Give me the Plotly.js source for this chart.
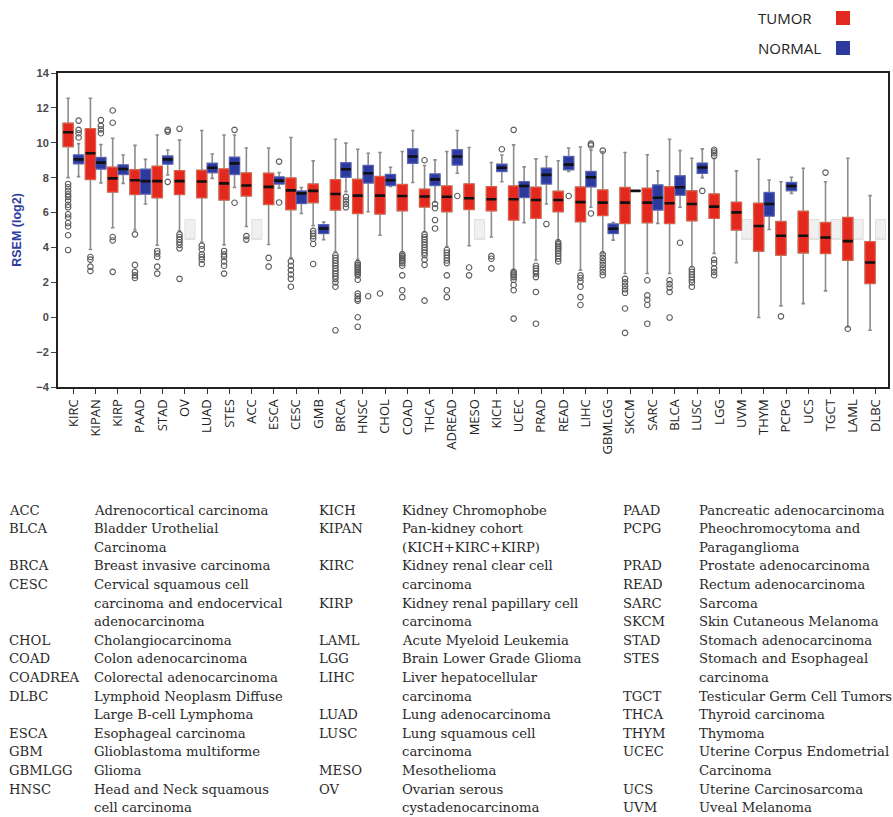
<!DOCTYPE html>
<html><head><meta charset="utf-8">
<script src="https://cdn.plot.ly/plotly-3.0.1.min.js"></script>
<style>html,body{margin:0;padding:0;background:#fff}#chart{width:893px;height:817px}</style>
</head><body><div id="chart"></div>
<script>
// ---------------- DATA ----------------
const categories = ['KIRC','KIPAN','KIRP','PAAD','STAD','OV','LUAD','STES','ACC','ESCA','CESC','GMB','BRCA','HNSC','CHOL','COAD','THCA','ADREAD','MESO','KICH','UCEC','PRAD','READ','LIHC','GBMLGG','SKCM','SARC','BLCA','LUSC','LGG','UVM','THYM','PCPG','UCS','TGCT','LAML','DLBC'];

const tumorLower  = [8.0, 3.88, 5.13, 5.0, 4.13, 4.95, 4.3, 4.15, 5.2, 4.17, 3.4, 5.25, 3.75, 3.3, 4.7, 3.75, 4.9, 4.05, 4.1, 4.6, 2.7, 3.27, 4.42, 2.7, 3.66, 2.51, 2.51, 2.51, 2.89, 3.66, 3.12, -0.02, 0.65, 0.78, 1.51, -0.56, -0.75];
const tumorQ1     = [9.78, 7.9, 7.18, 7.04, 6.85, 7.04, 6.85, 6.72, 6.95, 6.47, 6.17, 6.57, 6.15, 5.95, 5.92, 6.1, 6.32, 6.05, 6.18, 6.1, 5.57, 5.67, 6.05, 5.48, 5.83, 5.38, 5.42, 5.38, 5.53, 5.67, 5.0, 3.79, 3.56, 3.69, 3.66, 3.27, 1.93];
const tumorMedian = [10.6, 9.4, 7.96, 7.85, 7.8, 7.8, 7.78, 7.67, 7.55, 7.47, 7.27, 7.24, 7.06, 6.97, 6.97, 6.95, 6.92, 6.91, 6.82, 6.76, 6.76, 6.72, 6.72, 6.6, 6.57, 6.57, 6.57, 6.53, 6.49, 6.34, 6.01, 5.23, 4.67, 4.67, 4.57, 4.36, 3.14];
const tumorQ3     = [11.12, 10.8, 8.6, 8.45, 8.65, 8.4, 8.42, 8.5, 8.27, 8.25, 7.98, 7.63, 7.88, 7.9, 8.06, 7.6, 7.34, 7.52, 7.64, 7.48, 7.52, 7.45, 7.22, 7.46, 7.29, 7.43, 7.39, 7.48, 7.24, 7.06, 6.59, 6.53, 5.48, 6.07, 5.42, 5.72, 4.33];
const tumorUpper  = [12.55, 12.55, 10.26, 9.85, 10.45, 10.15, 10.7, 10.45, 9.7, 9.7, 10.3, 8.96, 10.2, 9.63, 9.44, 9.5, 8.7, 9.5, 9.73, 8.87, 9.88, 9.08, 8.97, 9.76, 9.5, 9.44, 9.31, 10.2, 9.11, 9.1, 8.39, 9.06, 7.77, 8.54, 7.77, 9.11, 6.97];

const normalLower  = [8.06, 7.7, 7.67, 6.49, 8.15, null, 7.96, 7.44, null, 7.4, 5.95, 4.45, 7.2, 6.05, 7.5, 7.72, 6.6, 8.25, null, 7.77, 5.42, 6.49, 8.35, 6.3, 4.42, 7.24, 5.38, 6.3, 8.0, null, null, 5.03, 7.1, null, null, null, null];
const normalQ1     = [8.8, 8.5, 8.19, 7.06, 8.78, null, 8.29, 8.19, null, 7.64, 6.52, 4.8, 8.02, 7.7, 7.55, 8.83, 7.56, 8.73, null, 8.36, 6.87, 7.64, 8.46, 7.48, 4.8, 7.24, 6.15, 7.0, 8.25, null, null, 5.8, 7.26, null, null, null, null];
const normalMedian = [9.05, 8.86, 8.5, 7.8, 9.05, null, 8.57, 8.82, null, 7.83, 7.1, 5.09, 8.48, 8.25, 7.85, 9.21, 7.9, 9.21, null, 8.57, 7.52, 8.16, 8.75, 8.02, 5.07, 7.24, 6.85, 7.45, 8.58, null, null, 6.49, 7.52, null, null, null, null];
const normalQ3     = [9.3, 9.15, 8.73, 8.48, 9.24, null, 8.82, 9.17, null, 8.04, 7.23, 5.3, 8.85, 8.7, 8.18, 9.65, 8.21, 9.6, null, 8.77, 7.77, 8.54, 9.21, 8.35, 5.34, 7.24, 7.58, 8.1, 8.83, null, null, 7.14, 7.72, null, null, null, null];
const normalUpper  = [9.95, 9.9, 9.3, 9.05, 9.59, null, 9.36, 10.45, null, 8.3, 7.44, 5.45, 9.98, 9.4, 8.6, 10.7, 9.02, 10.7, null, 9.3, 8.62, 9.21, 9.7, 9.58, 5.42, 7.24, 8.39, 9.56, 9.65, null, null, 7.87, 8.02, null, null, null, null];

const tumorOutliers = [
  [7.64,7.45,7.25,7.05,6.9,6.7,6.45,6.3,5.9,5.72,5.4,5.2,4.7,3.85],
  [3.45,3.3,2.9,2.65],
  [11.85,11.15,4.6,4.4,2.6],
  [4.75,3.0,2.6,2.4,2.25],
  [3.8,3.65,3.45,2.9,2.5],
  [10.8,4.75,4.6,4.45,4.3,4.15,3.95,2.2],
  [4.1,3.9,3.6,3.45,3.3,3.05],
  [3.8,3.6,3.45,3.2,2.95,2.5],
  [4.65,4.45],
  [3.4,2.9],
  [3.2,2.95,2.7,2.45,2.2,1.75],
  [4.95,4.8,4.65,4.5,4.2,3.05],
  [3.55,3.4,3.25,3.1,2.95,2.8,2.65,2.5,2.35,2.2,2.0,1.75,-0.75],
  [3.1,3.0,2.9,2.8,2.7,2.6,2.5,2.4,2.15,1.35,1.2,1.05,0.95,0.0,-0.55],
  [1.36],
  [3.6,3.5,3.4,3.3,3.2,3.1,2.95,2.4,1.55,1.15],
  [9.0,4.75,4.6,4.45,4.3,4.15,4.0,3.85,3.7,3.55,3.3,3.0,0.95],
  [3.85,3.7,3.55,3.4,3.25,3.1,2.4,1.55,1.15],
  [2.85,2.4],
  [3.5,3.35,2.8],
  [10.74,2.6,2.5,2.4,2.3,2.15,1.85,1.55,-0.08],
  [2.95,2.8,2.65,2.5,2.3,1.45,-0.37],
  [4.3,4.2,4.1,4.0,3.9,3.8,3.65,3.5,3.35,3.2],
  [2.4,2.25,2.05,1.75,1.15,0.7],
  [9.55,3.6,3.4,3.2,3.0,2.8,2.6,2.41],
  [2.2,2.0,1.8,1.6,1.4,0.5,-0.9],
  [2.12,1.25,1.0,0.7,-0.37],
  [2.12,1.9,1.7,1.45,-0.02],
  [2.75,2.6,2.45,2.3,2.15,2.0,1.75],
  [9.6,9.5,9.4,9.25,3.3,3.1,2.8,2.6,2.41],
  [],
  [],
  [0.05],
  [],
  [8.29],
  [-0.66],
  []
];
const normalOutliers = [
  [11.27,10.74,10.55,10.3],
  [11.3,10.97,10.77,10.55],
  [], [], [10.74,10.64,7.76], [], [], [10.74,6.56], [],
  [8.92,6.58], [], [], [6.9,6.7,6.5,6.3], [1.2], [], [],
  [6.49,6.25,5.57,5.09], [6.95], [], [9.63], [], [5.34], [6.95],
  [9.95,9.85,5.95], [], [], [], [4.27], [7.24], [], [], [], [], [], [], [], []
];

const placeholderCats = ['OV','ACC','MESO','UVM','UCS','TGCT','LAML','DLBC'];
const placeholderLow = 4.45, placeholderHigh = 5.6;

const legendLabels = ['TUMOR','NORMAL'];
const yTicks = [-4,-2,0,2,4,6,8,10,12,14];

const glossaryAbbr = [
  ['ACC','BLCA','BRCA','CESC','CHOL','COAD','COADREA','DLBC','ESCA','GBM','GBMLGG','HNSC'],
  ['KICH','KIPAN','KIRC','KIRP','LAML','LGG','LIHC','LUAD','LUSC','MESO','OV'],
  ['PAAD','PCPG','PRAD','READ','SARC','SKCM','STAD','STES','TGCT','THCA','THYM','UCEC','UCS','UVM']
];
const glossaryDesc = [
  ['Adrenocortical carcinoma','Bladder Urothelial|Carcinoma','Breast invasive carcinoma','Cervical squamous cell|carcinoma and endocervical|adenocarcinoma','Cholangiocarcinoma','Colon adenocarcinoma','Colorectal adenocarcinoma','Lymphoid Neoplasm Diffuse|Large B-cell Lymphoma','Esophageal carcinoma','Glioblastoma multiforme','Glioma','Head and Neck squamous|cell carcinoma'],
  ['Kidney Chromophobe','Pan-kidney cohort|(KICH+KIRC+KIRP)','Kidney renal clear cell|carcinoma','Kidney renal papillary cell|carcinoma','Acute Myeloid Leukemia','Brain Lower Grade Glioma','Liver hepatocellular|carcinoma','Lung adenocarcinoma','Lung squamous cell|carcinoma','Mesothelioma','Ovarian serous|cystadenocarcinoma'],
  ['Pancreatic adenocarcinoma','Pheochromocytoma and|Paraganglioma','Prostate adenocarcinoma','Rectum adenocarcinoma','Sarcoma','Skin Cutaneous Melanoma','Stomach adenocarcinoma','Stomach and Esophageal|carcinoma','Testicular Germ Cell Tumors','Thyroid carcinoma','Thymoma','Uterine Corpus Endometrial|Carcinoma','Uterine Carcinosarcoma','Uveal Melanoma']
];

// ---------------- STYLE / LAYOUT ----------------
const W = 893, H = 817;
const M = {l: 58, r: 5, t: 73, b: 430};
const OFF = 0.235, BW = 0.45;
const RED = '#e2281f', RED_LINE = '#ef5a3a';
const BLUE = '#2b3a9c', BLUE_LINE = '#4f5fc6';
const WHISK = '#8c8c8c';

const px2x = p => (p - M.l) / (W - M.l - M.r);
const py2y = p => (H - M.b - p) / (H - M.t - M.b);

function idxs(arr) { const r = []; arr.forEach((v, i) => { if (v !== null) r.push(i); }); return r; }

function boxTrace(ix, off, lf, q1, med, q3, uf, fill, line, lw, ww) {
  return {
    type: 'box', x: ix.map(i => i + off),
    lowerfence: ix.map(i => lf[i]), q1: ix.map(i => q1[i]), median: ix.map(i => med[i]),
    q3: ix.map(i => q3[i]), upperfence: ix.map(i => uf[i]),
    width: BW, fillcolor: fill, line: {color: line, width: lw}, whiskerwidth: ww,
    boxpoints: false, hoverinfo: 'skip', showlegend: false
  };
}

const tIdx = categories.map((c, i) => i);
const nIdx = idxs(normalMedian);
const gIdx = placeholderCats.map(c => categories.indexOf(c));
const gArr = v => categories.map(() => v);

const traces = [];
// placeholder (no normal samples)
traces.push(boxTrace(gIdx, OFF, gArr(placeholderLow), gArr(placeholderLow), gArr(placeholderLow), gArr(placeholderHigh), gArr(placeholderHigh), '#f0f0f0', '#e0e0e0', 1, 0));
// whiskers
traces.push(boxTrace(tIdx, -OFF, tumorLower, tumorQ1, tumorMedian, tumorQ3, tumorUpper, 'rgba(0,0,0,0)', WHISK, 1.6, 0.35));
traces.push(boxTrace(nIdx, OFF, normalLower, normalQ1, normalMedian, normalQ3, normalUpper, 'rgba(0,0,0,0)', WHISK, 1.6, 0.35));
// bodies
traces.push(boxTrace(tIdx, -OFF, tumorQ1, tumorQ1, tumorMedian, tumorQ3, tumorQ3, RED, RED_LINE, 1, 0));
traces.push(boxTrace(nIdx, OFF, normalQ1, normalQ1, normalMedian, normalQ3, normalQ3, BLUE, BLUE_LINE, 1, 0));
// medians
traces.push(boxTrace(tIdx, -OFF, tumorMedian, tumorMedian, tumorMedian, tumorMedian, tumorMedian, 'rgba(0,0,0,0)', '#111', 2.6, 0));
traces.push(boxTrace(nIdx, OFF, normalMedian, normalMedian, normalMedian, normalMedian, normalMedian, 'rgba(0,0,0,0)', '#111', 2.6, 0));
// outliers
function outlierTrace(list, off) {
  const xs = [], ys = [];
  list.forEach((arr, i) => arr.forEach(v => { xs.push(i + off); ys.push(v); }));
  return {type: 'scatter', mode: 'markers', x: xs, y: ys, hoverinfo: 'skip', showlegend: false,
    marker: {symbol: 'circle-open', size: 5.5, color: '#5a5a5a', line: {width: 1.1, color: '#5a5a5a'}}};
}
traces.push(outlierTrace(tumorOutliers, -OFF));
traces.push(outlierTrace(normalOutliers, OFF));

// annotations
const ann = [];
const legendColors = [RED, BLUE];
const legendY = [18, 48];
const shapes = [];
legendLabels.forEach((lab, k) => {
  ann.push({xref: 'paper', yref: 'paper', x: px2x(756), y: py2y(legendY[k]), xanchor: 'left', yanchor: 'middle',
    text: lab, showarrow: false, font: {family: 'Open Sans', size: 15, color: '#222'}});
  shapes.push({type: 'rect', xref: 'paper', yref: 'paper', x0: px2x(836), x1: px2x(850),
    y0: py2y(legendY[k] + 7), y1: py2y(legendY[k] - 7), fillcolor: legendColors[k], line: {width: 0}});
});

const colX = [[7, 92], [317, 400], [621, 697]];
const LINE0 = 510, LH = 18.6;
const GFONT = {family: 'DejaVu Serif', size: 13.2, color: '#2a2a2a'};
glossaryAbbr.forEach((col, c) => {
  let line = 0;
  col.forEach((ab, k) => {
    const parts = glossaryDesc[c][k].split('|');
    ann.push({xref: 'paper', yref: 'paper', x: px2x(colX[c][0]), y: py2y(LINE0 + line * LH), xanchor: 'left', yanchor: 'middle',
      text: ab, showarrow: false, font: GFONT});
    parts.forEach(p => {
      ann.push({xref: 'paper', yref: 'paper', x: px2x(colX[c][1]), y: py2y(LINE0 + line * LH), xanchor: 'left', yanchor: 'middle',
        text: p, showarrow: false, font: GFONT});
      line++;
    });
  });
});

const layout = {
  width: W, height: H, margin: M, paper_bgcolor: '#fff', plot_bgcolor: '#fff',
  boxmode: 'overlay', showlegend: false,
  xaxis: {
    range: [-0.69, 36.57], tickmode: 'array', tickvals: categories.map((c, i) => i), ticktext: categories,
    tickangle: -90, ticks: 'outside', ticklen: 5, tickcolor: '#333', tickwidth: 1,
    tickfont: {family: 'Open Sans', size: 13, color: '#222'},
    showline: true, mirror: true, linecolor: '#222', linewidth: 2, showgrid: false, zeroline: false, automargin: false
  },
  yaxis: {
    range: [-4, 14], tickmode: 'array', tickvals: yTicks, ticks: 'outside', ticklen: 5, tickcolor: '#444',
    tickfont: {family: 'Liberation Sans', size: 11, color: '#4a4a4a', weight: 'bold'},
    showline: true, mirror: true, linecolor: '#222', linewidth: 2, showgrid: false, zeroline: false, automargin: false,
    title: {text: 'RSEM (log2)', standoff: 12, font: {family: 'Liberation Sans', size: 12.5, color: '#2e3f9e', weight: 'bold'}}
  },
  annotations: ann, shapes: shapes
};

Plotly.newPlot('chart', traces, layout, {staticPlot: true, displayModeBar: false});
</script></body></html>
